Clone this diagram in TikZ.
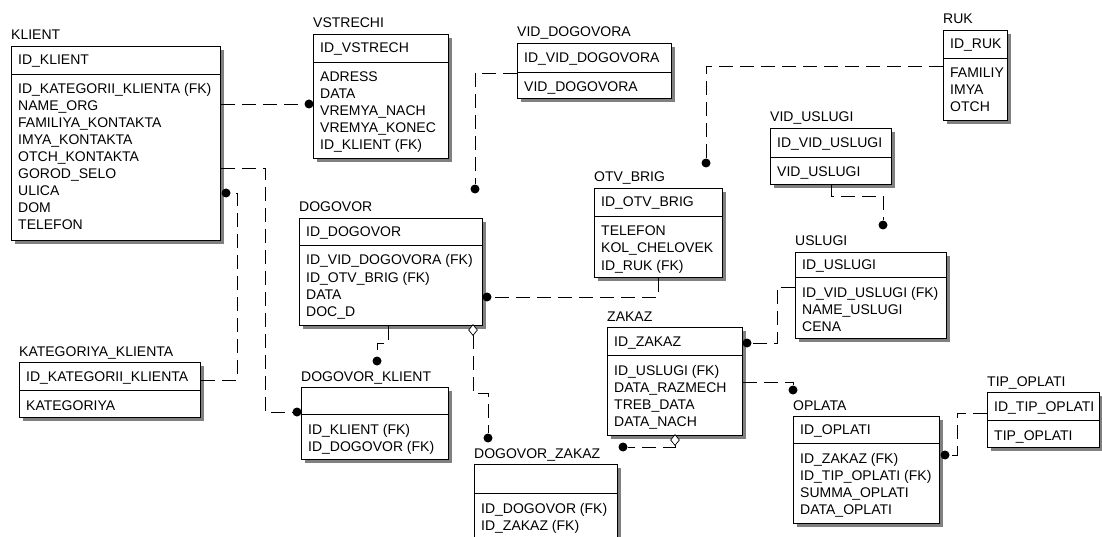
\documentclass[tikz,border=0pt]{standalone}
\usepackage{fontspec}
\setmainfont{Liberation Sans}
\usepackage{tikz}
\usetikzlibrary{shapes.geometric}
\newcommand{\erfont}{\fontsize{14}{17}\selectfont}
% name, x, y, width, height, divider, title, key, attributes
\newcommand{\erentity}[9]{%
\fill[eshadow](#2+4,#3+4)rectangle(#2+#4+4,#3+#5+4);
\node[ebox,minimum width=#4pt,minimum height=#5pt](#1)at(#2,#3){};
\draw[line width=0.9pt](#2,#3+#6)--(#2+#4,#3+#6);
\node[etitle](#1-title)at(#2,#3-6){#7};
\node[eattr](#1-key)at(#2+7,#3+#6/2+5){#8};
\foreach \a[count=\i] in {#9}
\node[eattr](#1-a\i)at(#2+7,#3+#6+20+17*\i-17){\a};
}
\begin{document}
\begin{tikzpicture}[x=1pt,y=-1pt,
ebox/.style={draw,line width=0.9pt,inner sep=0pt,anchor=north west,fill=white},
eshadow/.style={fill=black!50},
etitle/.style={anchor=base west,inner sep=0pt,font=\erfont},
eattr/.style={anchor=base west,inner sep=0pt,font=\erfont},
rel/.style={line width=0.9pt,dash pattern=on 14pt off 7pt},
relend/.style={circle,fill,inner sep=0pt,minimum size=9pt},
nulldia/.style={diamond,draw,fill=white,line width=0.7pt,inner sep=0pt,minimum width=9pt,minimum height=11pt}]
\useasboundingbox(0,0)rectangle(1102,537);
\fill[white](0,0)rectangle(1102,537);
\erentity{klient}{11}{46}{209}{194}{28}{KLIENT}{ID\_KLIENT}{ID\_KATEGORII\_KLIENTA (FK),NAME\_ORG,FAMILIYA\_KONTAKTA,IMYA\_KONTAKTA,OTCH\_KONTAKTA,GOROD\_SELO,ULICA,DOM,TELEFON}
\erentity{vstrechi}{313}{34}{135}{124}{28}{VSTRECHI}{ID\_VSTRECH}{ADRESS,DATA,VREMYA\_NACH,VREMYA\_KONEC,ID\_KLIENT (FK)}
\erentity{viddogovora}{517}{43}{154}{55}{29}{VID\_DOGOVORA}{ID\_VID\_DOGOVORA}{VID\_DOGOVORA}
\erentity{ruk}{943}{30}{64}{90}{28}{RUK}{ID\_RUK}{FAMILIY,IMYA,OTCH}
\erentity{viduslugi}{770}{128}{121}{56}{29}{VID\_USLUGI}{ID\_VID\_USLUGI}{VID\_USLUGI}
\erentity{otvbrig}{594}{188}{128}{89}{28}{OTV\_BRIG}{ID\_OTV\_BRIG}{TELEFON,KOL\_CHELOVEK,ID\_RUK (FK)}
\erentity{dogovor}{299}{218}{183}{107}{27}{DOGOVOR}{ID\_DOGOVOR}{ID\_VID\_DOGOVORA (FK),ID\_OTV\_BRIG (FK),DATA,DOC\_D}
\erentity{uslugi}{795}{252}{151}{86}{25}{USLUGI}{ID\_USLUGI}{ID\_VID\_USLUGI (FK),NAME\_USLUGI,CENA}
\erentity{kategoriya}{19}{362}{181}{55}{28}{KATEGORIYA\_KLIENTA}{ID\_KATEGORII\_KLIENTA}{KATEGORIYA}
\erentity{dogklient}{301}{387}{147}{72}{27}{DOGOVOR\_KLIENT}{}{ID\_KLIENT (FK),ID\_DOGOVOR (FK)}
\erentity{zakaz}{607}{327}{135}{108}{28}{ZAKAZ}{ID\_ZAKAZ}{ID\_USLUGI (FK),DATA\_RAZMECH,TREB\_DATA,DATA\_NACH}
\erentity{dogzakaz}{474}{464}{143}{76}{29}{DOGOVOR\_ZAKAZ}{}{ID\_DOGOVOR (FK),ID\_ZAKAZ (FK)}
\erentity{oplata}{793}{416}{146}{107}{27}{OPLATA}{ID\_OPLATI}{ID\_ZAKAZ (FK),ID\_TIP\_OPLATI (FK),SUMMA\_OPLATI,DATA\_OPLATI}
\erentity{tipoplati}{987}{392}{112}{55}{28}{TIP\_OPLATI}{ID\_TIP\_OPLATI}{TIP\_OPLATI}
% relationships
\node[relend](dot-vs)at(309,104){};
\draw[rel](klient.east|-dot-vs)--(dot-vs);
\node[relend](dot-dk1)at(297,412){};
\draw[rel](klient.east|-0,168)-|(265,412)--(dot-dk1);
\node[relend](dot-kl)at(226,193){};
\draw[rel](kategoriya.east|-0,380)-|(237,193)--(dot-kl);
\node[relend](dot-dg1)at(475,189){};
\draw[rel](viddogovora.west|-0,73)-|(dot-dg1);
\node[relend](dot-ob)at(706,163){};
\draw[rel](ruk.west|-0,66)-|(dot-ob);
\node[relend](dot-dg2)at(487,297){};
\draw[rel](otvbrig.south-|658,0)|-(dot-dg2);
\node[relend](dot-dk2)at(377,361){};
\draw[rel](dogovor.south-|388,0)--(388,343)-|(dot-dk2);
\node[relend](dot-dz1)at(488,438){};
\draw[rel](473,335)|-(488,393)--(dot-dz1);
\node[nulldia](dia-dg)at(473,330){};
\node[relend](dot-zk1)at(747,343){};
\draw[rel](uslugi.west|-0,287)-|(777,343)--(dot-zk1);
\node[relend](dot-op1)at(793,390){};
\draw[rel](zakaz.east|-0,382)-|(dot-op1);
\node[relend](dot-dz2)at(623,447){};
\draw[rel](675,445)|-(dot-dz2);
\node[nulldia](dia-zk)at(675,440){};
\node[relend](dot-us)at(883,225){};
\draw[rel](viduslugi.south-|831,0)|-(883,196)--(dot-us);
\node[relend](dot-op2)at(945,455){};
\draw[rel](tipoplati.west|-0,413)-|(957,455)--(dot-op2);
\end{tikzpicture}
\end{document}
